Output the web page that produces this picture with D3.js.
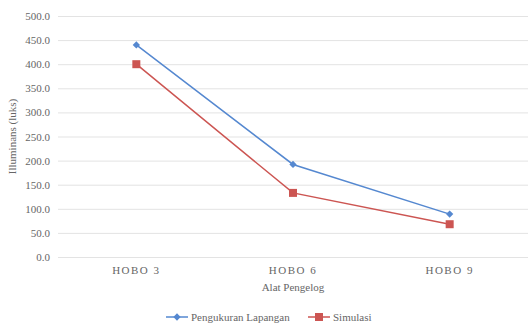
<!DOCTYPE html>
<html>
<head>
<meta charset="utf-8">
<script src="https://cdn.jsdelivr.net/npm/d3@7"></script>
<style>
  body { margin: 0; background: #fff; }
  svg { display: block; font-family: 'Liberation Serif', 'DejaVu Serif', serif; }
</style>
</head>
<body>
<svg id="chart" width="528" height="328"></svg>
<script>
// Illuminans per alat pengelog
const categories = ['HOBO 3', 'HOBO 6', 'HOBO 9'];
const pengukuran = [440, 192, 89];
const simulasi = [400, 133, 68];
const yTicks = [0, 50, 100, 150, 200, 250, 300, 350, 400, 450, 500];

const series = [
  { name: 'Pengukuran Lapangan', values: pengukuran, color: '#5588d0', marker: 'diamond' },
  { name: 'Simulasi', values: simulasi, color: '#cc5552', marker: 'square' }
];

const svg = d3.select('#chart');
const margin = { left: 58, right: 0, top: 16, bottom: 71 };
const W = 528, H = 328;

const x = d3.scaleBand().domain(categories).range([margin.left, W - margin.right]);
const y = d3.scaleLinear().domain([0, 500]).range([H - margin.bottom, margin.top]);

// gridlines
svg.append('g')
  .selectAll('line')
  .data(yTicks)
  .join('line')
  .attr('x1', margin.left).attr('x2', W - margin.right)
  .attr('y1', d => y(d) + 0.5).attr('y2', d => y(d) + 0.5)
  .attr('stroke', '#e3e3e3').attr('stroke-width', 1);

// y axis labels
const yAxis = d3.axisLeft(y).tickValues(yTicks).tickFormat(d3.format('.1f')).tickSize(0).tickPadding(8);
svg.append('g')
  .attr('transform', `translate(${margin.left},0)`)
  .call(yAxis)
  .call(g => g.select('.domain').remove())
  .call(g => g.selectAll('text').attr('fill', '#666').style('font-size', '11px').style('font-family', 'Liberation Serif, serif'));

// x axis labels
const xAxis = d3.axisBottom(x).tickSize(0).tickPadding(9);
svg.append('g')
  .attr('transform', `translate(0,${y(0)})`)
  .call(xAxis)
  .call(g => g.select('.domain').remove())
  .call(g => g.selectAll('text').attr('fill', '#666').style('font-size', '11px')
    .style('letter-spacing', '1.5px').style('font-family', 'Liberation Serif, serif'));

// axis titles
svg.append('text')
  .attr('x', x('HOBO 6') + x.bandwidth() / 2).attr('y', 291)
  .attr('text-anchor', 'middle').attr('fill', '#666').style('font-size', '11px')
  .text('Alat Pengelog');

svg.append('text')
  .attr('transform', `translate(16,${(y(0) + y(500)) / 2}) rotate(-90)`)
  .attr('text-anchor', 'middle').attr('fill', '#666').style('font-size', '11px')
  .text('Illuminans  (luks)');

// lines + markers
const line = d3.line()
  .x((d, i) => x(categories[i]) + x.bandwidth() / 2)
  .y(d => y(d));

function drawMarker(g, type, color, cx, cy) {
  if (type === 'diamond') {
    g.append('path')
      .attr('d', d3.symbol(d3.symbolDiamond2, 34)())
      .attr('transform', `translate(${cx},${cy})`)
      .attr('fill', color);
  } else {
    g.append('rect')
      .attr('x', cx - 4).attr('y', cy - 4).attr('width', 8).attr('height', 8)
      .attr('fill', color);
  }
}

series.forEach(s => {
  const g = svg.append('g');
  g.append('path')
    .datum(s.values)
    .attr('d', line)
    .attr('fill', 'none')
    .attr('stroke', s.color)
    .attr('stroke-width', 1.5);
  s.values.forEach((v, i) => {
    drawMarker(g, s.marker, s.color, x(categories[i]) + x.bandwidth() / 2, y(v));
  });
});

// legend
const legendItems = [
  { s: series[0], x: 166 },
  { s: series[1], x: 308 }
];
const ly = 317;
legendItems.forEach(({ s, x: lx }) => {
  const g = svg.append('g');
  g.append('line')
    .attr('x1', lx).attr('x2', lx + 22).attr('y1', ly).attr('y2', ly)
    .attr('stroke', s.color).attr('stroke-width', 1.5);
  drawMarker(g, s.marker, s.color, lx + 11, ly);
  g.append('text')
    .attr('x', lx + 25).attr('y', ly + 4)
    .attr('fill', '#666').style('font-size', '11px')
    .text(s.name);
});
</script>
</body>
</html>
